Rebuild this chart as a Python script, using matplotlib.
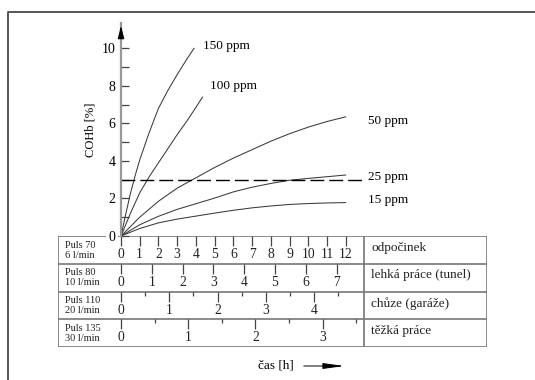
import matplotlib
matplotlib.use("Agg")
import matplotlib.pyplot as plt
import matplotlib.transforms as mtransforms
from matplotlib.lines import Line2D

plt.rcParams['font.family'] = ['Liberation Serif', 'DejaVu Serif']

# COHb curves, hours of rest vs COHb [%]
t_150 = [0, 0.25, 0.5, 0.75, 1, 1.5, 2, 2.5, 3, 3.5, 3.9]
c_150 = [0, 1.15, 2.25, 3.2, 4.05, 5.5, 6.8, 7.75, 8.6, 9.4, 10.0]
t_100 = [0, 0.5, 1, 1.5, 2, 2.5, 3, 3.5, 4, 4.35]
c_100 = [0, 1.2, 2.3, 3.15, 3.9, 4.65, 5.4, 6.1, 6.85, 7.4]
t_long = [0, 1, 2, 3, 4, 5, 6, 7, 8, 9, 10, 11, 12]
c_50 = [0, 1.0, 1.85, 2.55, 3.1, 3.65, 4.15, 4.6, 5.05, 5.45, 5.8, 6.1, 6.35]
c_25 = [0, 0.6, 1.05, 1.42, 1.72, 2.02, 2.35, 2.6, 2.8, 2.97, 3.07, 3.16, 3.25]
c_15 = [0, 0.4, 0.7, 0.9, 1.06, 1.22, 1.37, 1.5, 1.6, 1.68, 1.73, 1.76, 1.78]
curve_names = ['150 ppm', '100 ppm', '50 ppm', '25 ppm', '15 ppm']
limit_coh = 3

# activity table: pulse, ventilation, name, max scale value, rest-hours per 1 h
pulses = ['Puls 70', 'Puls 80', 'Puls 110', 'Puls 135']
ventilation = ['6 l/min', '10 l/min', '20 l/min', '30 l/min']
activities = ['odpočinek', 'lehká práce (tunel)', 'chůze (garáže)', 'těžká práce']
scale_max = [12, 7, 4, 3]
rest_equiv = [1.0, 1.645, 2.58, 3.59]
half_ticks = [False, False, True, True]

W, H = 535, 380
fig = plt.figure(figsize=(W / 100, H / 100), dpi=100)


def fx(px):
    return px / W


def fy(py):
    return 1 - py / H


line_col = '#3a3a3a'
grid_col = '#777777'

# outer frame (cut at right and bottom)
fig.add_artist(Line2D([fx(8), fx(8), 1], [0, fy(11.5), fy(11.5)],
                      transform=fig.transFigure, color='#555555', lw=1.4))

# table frame
tab = fig.add_axes([fx(58), fy(347), fx(487) - fx(58), (347 - 236) / H])
tab.set_xlim(0, 1)
tab.set_ylim(0, 4)
tab.axis('off')
for yy in range(5):
    tab.axhline(yy, color=grid_col, lw=1.2)
tab.axvline(0, color=grid_col, lw=1.2)
tab.axvline(1, color=grid_col, lw=1.2)
div = (364 - 58) / (487 - 58)
tab.axvline(div, color=grid_col, lw=1.2)
for i in range(4):
    row_top = 4 - i
    tab.text(0.017, row_top - 0.33, pulses[i], fontsize=7.5, va='center', color='#222222')
    tab.text(0.017, row_top - 0.69, ventilation[i], fontsize=7.5, va='center', color='#222222')
    tab.text((371 - 58) / (487 - 58), row_top - 0.42, activities[i], fontsize=9.5,
             va='center', color='#222222')

# time scales for each activity row
row_h = (347 - 236) / 4
for i in range(4):
    top_px = 236 + row_h * i
    rax = fig.add_axes([fx(121), fy(top_px + row_h), 243.4 / W, row_h / H])
    rax.set_xlim(0, 13 / rest_equiv[i])
    rax.set_ylim(0, 1)
    for s in rax.spines.values():
        s.set_visible(False)
    rax.patch.set_visible(False)
    rax.set_yticks([])
    ticks = list(range(scale_max[i] + 1))
    rax.set_xticks(ticks)
    if half_ticks[i]:
        rax.set_xticks([k + 0.5 for k in range(scale_max[i] + 1)], minor=True)
    rax.xaxis.set_ticks_position('top')
    rax.tick_params(axis='x', which='major', direction='in', length=7, width=0.9,
                    color='#444444', labeltop=False, labelbottom=False)
    rax.tick_params(axis='x', which='minor', direction='in', length=3, width=0.9,
                    color='#444444', labeltop=False, labelbottom=False)
    trans = mtransforms.blended_transform_factory(rax.transData, rax.transAxes)
    for k in ticks:
        rax.text(k, 0.33, str(k), transform=trans, ha='center', va='center',
                 fontsize=9.8, color='#222222')

# main chart
ax = fig.add_axes([fx(121), fy(236), 243.4 / W, (236 - 23) / H])
ax.set_zorder(3)
ax.patch.set_visible(False)
ax.set_xlim(0, 13)
ax.set_ylim(0, 11.35)
for side in ['top', 'right', 'bottom']:
    ax.spines[side].set_visible(False)
ax.spines['left'].set_color('#999999')
ax.spines['left'].set_linewidth(1.6)
ax.set_xticks([])
ax.set_yticks(range(0, 11, 2))
ax.set_yticks(range(1, 11, 2), minor=True)
ax.tick_params(axis='y', which='both', direction='in', length=6, width=0.9,
               color='#444444', labelsize=10, pad=4)
ylabels = ax.get_yticklabels()
ylabels[0].set_bbox(dict(facecolor='white', edgecolor='none', pad=2))
ax.set_ylabel('COHb [%]', fontsize=9, labelpad=4)
ax.annotate('', xy=(0, 11.35), xytext=(0, 10.5), xycoords='data',
            arrowprops=dict(arrowstyle='-|>,head_length=0.55,head_width=0.14',
                            color='black', lw=0.8, mutation_scale=14),
            annotation_clip=False)

ax.plot(t_150, c_150, color=line_col, lw=0.75)
ax.plot(t_100, c_100, color=line_col, lw=0.75)
ax.plot(t_long, c_50, color=line_col, lw=0.75)
ax.plot(t_long, c_25, color=line_col, lw=0.75)
ax.plot(t_long, c_15, color=line_col, lw=0.75)
ax.axhline(limit_coh, color='black', lw=1.0, dashes=(10, 3.6))

ax.text(t_150[-1] + 0.5, c_150[-1] + 0.12, curve_names[0], fontsize=9.5, va='center')
ax.text(t_100[-1] + 0.4, c_100[-1] + 0.6, curve_names[1], fontsize=9.5, va='center')
ax.text(13.2, c_50[-1] - 0.2, curve_names[2], fontsize=9.5, va='center')
ax.text(13.2, c_25[-1] - 0.1, curve_names[3], fontsize=9.5, va='center')
ax.text(13.2, c_15[-1] + 0.15, curve_names[4], fontsize=9.5, va='center')

# time axis caption with arrow
fig.text(fx(258), fy(366), 'čas [h]', fontsize=9.5, va='center', ha='left')
fig.add_artist(plt.Annotation('', xy=(fx(347), fy(366)), xytext=(fx(301), fy(366)),
                              xycoords='figure fraction',
                              arrowprops=dict(arrowstyle='-|>,head_length=1.6,head_width=0.22',
                                              color='black', lw=0.7, mutation_scale=8)))

fig.savefig('out.png', dpi=100)
